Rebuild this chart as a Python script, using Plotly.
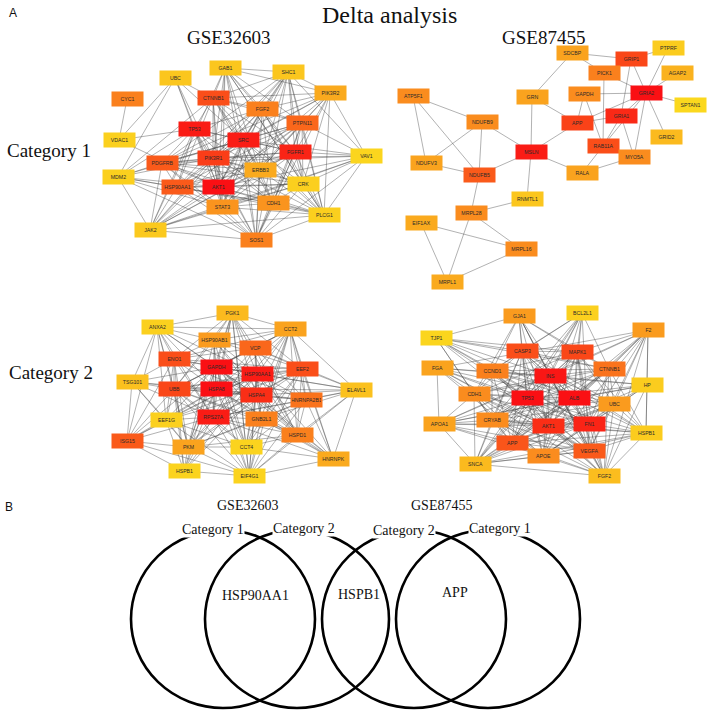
import plotly.graph_objects as go
from plotly.colors import sample_colorscale

# ---------------- Panel A data: four PPI networks ----------------
# Network 1: GSE32603, Category 1
n1_names = ["GAB1", "UBC", "SHC1", "CYC1", "CTNNB1", "PIK3R2", "FGF2", "PTPN11", "TP53", "VDAC1",
            "SRC", "FGFR1", "VAV1", "PDGFRB", "PIK3R1", "ERBB3", "MDM2", "CRK", "HSP90AA1", "AKT1",
            "STAT3", "CDH1", "PLCG1", "JAK2", "SOS1"]
n1_x = [225, 175, 288, 127, 213, 330, 262, 302, 194, 119, 243, 295, 366, 162, 213, 260, 118, 303, 177, 218,
        222, 273, 324, 150, 256]
n1_y = [68, 78, 72, 99, 98, 93, 109, 123, 129, 140, 140, 152, 156, 163, 158, 170, 177, 184, 187, 187,
        207, 203, 215, 230, 240]
n1_score = [0.12, 0.12, 0.12, 0.55, 0.75, 0.3, 0.55, 0.65, 0.95, 0.05, 0.95, 0.92, 0.02, 0.7, 0.82, 0.3,
            0.05, 0.06, 0.7, 1.0, 0.45, 0.45, 0.06, 0.1, 0.55]
n1_adj = {
    "CYC1": ["VDAC1"],
    "VDAC1": ["UBC", "AKT1", "TP53"],
    "UBC": ["TP53", "CTNNB1", "SRC", "MDM2", "AKT1", "PIK3R1"],
    "GAB1": ["SRC", "PIK3R1", "PTPN11", "SHC1", "PIK3R2", "FGFR1", "ERBB3", "AKT1", "CRK", "PLCG1", "SOS1",
             "FGF2", "STAT3", "JAK2", "CTNNB1"],
    "SHC1": ["SRC", "PIK3R1", "PTPN11", "FGFR1", "ERBB3", "CRK", "PLCG1", "SOS1", "FGF2", "PDGFRB",
             "PIK3R2", "VAV1", "STAT3", "CTNNB1", "HSP90AA1", "AKT1"],
    "PIK3R2": ["PIK3R1", "SRC", "FGFR1", "PTPN11", "ERBB3", "AKT1", "PDGFRB", "VAV1", "PLCG1", "SOS1",
               "CRK", "CTNNB1", "FGF2"],
    "CTNNB1": ["TP53", "SRC", "AKT1", "CDH1", "PIK3R1", "FGFR1", "PTPN11", "MDM2", "FGF2", "HSP90AA1",
               "ERBB3", "STAT3", "PLCG1"],
    "FGF2": ["FGFR1", "SRC", "PIK3R1", "AKT1", "PTPN11", "PLCG1", "CDH1", "STAT3", "TP53", "SOS1", "CRK",
             "PDGFRB", "JAK2"],
    "PTPN11": ["SRC", "FGFR1", "PDGFRB", "PIK3R1", "STAT3", "JAK2", "CRK", "PLCG1", "SOS1", "ERBB3",
               "AKT1", "VAV1", "HSP90AA1", "CDH1"],
    "TP53": ["SRC", "AKT1", "MDM2", "HSP90AA1", "PIK3R1", "STAT3", "CDH1", "PDGFRB", "JAK2", "FGFR1",
             "ERBB3", "SOS1"],
    "SRC": ["FGFR1", "AKT1", "PIK3R1", "PDGFRB", "STAT3", "CDH1", "CRK", "PLCG1", "SOS1", "ERBB3", "JAK2",
            "HSP90AA1", "VAV1", "MDM2"],
    "FGFR1": ["PIK3R1", "AKT1", "PDGFRB", "PLCG1", "CRK", "SOS1", "STAT3", "CDH1", "ERBB3", "VAV1",
              "HSP90AA1", "JAK2"],
    "VAV1": ["PLCG1", "CRK", "SOS1", "PIK3R1", "AKT1", "PDGFRB", "JAK2", "STAT3"],
    "PDGFRB": ["PIK3R1", "AKT1", "PLCG1", "SOS1", "JAK2", "STAT3", "CRK", "MDM2", "HSP90AA1", "ERBB3"],
    "PIK3R1": ["AKT1", "ERBB3", "PLCG1", "CRK", "SOS1", "JAK2", "STAT3", "HSP90AA1", "CDH1", "MDM2"],
    "ERBB3": ["AKT1", "PLCG1", "SOS1", "STAT3", "CRK", "HSP90AA1", "CDH1", "JAK2"],
    "MDM2": ["AKT1", "HSP90AA1", "STAT3", "JAK2", "CDH1", "SOS1"],
    "CRK": ["PLCG1", "SOS1", "AKT1", "STAT3", "CDH1", "JAK2"],
    "HSP90AA1": ["AKT1", "STAT3", "JAK2", "SOS1", "CDH1", "CRK", "PLCG1"],
    "AKT1": ["STAT3", "CDH1", "PLCG1", "SOS1", "JAK2"],
    "STAT3": ["JAK2", "SOS1", "CDH1", "PLCG1"],
    "CDH1": ["PLCG1", "SOS1"],
    "PLCG1": ["SOS1", "JAK2"],
    "JAK2": ["SOS1"],
}

# Network 2: GSE87455, Category 1
n2_names = ["SDCBP", "PTPRF", "GRIP1", "PICK1", "AGAP2", "ATP5F1", "GRN", "GAPDH", "GRIA2", "SPTAN1",
            "NDUFB9", "GRIA1", "APP", "GRID2", "MSLN", "RAB11A", "MYO5A", "NDUFV3", "NDUFB5", "RALA",
            "RNMTL1", "MRPL28", "EIF1AX", "MRPL16", "MRPL1"]
n2_x = [572, 668, 631, 604, 677, 413, 532, 584, 646, 690, 482, 621, 577, 666, 531, 603, 634, 426, 479, 582,
        527, 471, 421, 521, 447]
n2_y = [53, 48, 59, 73, 73, 96, 97, 94, 93, 105, 122, 116, 123, 137, 152, 146, 157, 163, 175, 173,
        199, 213, 223, 249, 282]
n2_score = [0.35, 0.08, 0.78, 0.55, 0.25, 0.5, 0.35, 0.5, 1.0, 0.0, 0.5, 0.9, 0.8, 0.2, 0.95, 0.75, 0.5,
            0.35, 0.7, 0.35, 0.12, 0.5, 0.3, 0.5, 0.3]
n2_adj = {
    "SDCBP": ["GRIP1", "PICK1", "GRN"],
    "GRIP1": ["PTPRF", "PICK1", "GRIA2", "GRIA1"],
    "PTPRF": ["GRIA2"],
    "AGAP2": ["GRIA2"],
    "PICK1": ["GRIA2", "RAB11A"],
    "GAPDH": ["GRIA2", "APP", "RAB11A"],
    "GRIA2": ["GRIA1", "APP", "SPTAN1", "GRID2", "MYO5A", "RAB11A"],
    "GRIA1": ["APP", "RAB11A", "MYO5A"],
    "APP": ["GRN", "MSLN"],
    "GRN": ["MSLN"],
    "MSLN": ["NDUFB9", "NDUFB5", "RALA", "RNMTL1"],
    "RALA": ["RAB11A", "MYO5A"],
    "ATP5F1": ["NDUFB9", "NDUFV3", "NDUFB5"],
    "NDUFB9": ["NDUFV3", "NDUFB5"],
    "NDUFV3": ["NDUFB5"],
    "NDUFB5": ["MRPL28"],
    "MRPL28": ["RNMTL1", "MRPL16", "MRPL1"],
    "EIF1AX": ["MRPL16", "MRPL1"],
    "MRPL16": ["MRPL1"],
}

# Network 3: GSE32603, Category 2
n3_names = ["PGK1", "ANXA2", "CCT2", "HSP90AB1", "VCP", "ENO1", "GAPDH", "HSP90AA1", "EEF2", "TSG101",
            "UBB", "HSPA8", "HSPA4", "ELAVL1", "HNRNPA2B1", "EEF1G", "RPS27A", "GNB2L1", "ISG15", "HSPD1",
            "PKM", "CCT4", "HNRNPK", "HSPB1", "EIF4G1"]
n3_x = [232, 157, 290, 214, 255, 174, 216, 257, 302, 132, 174, 216, 256, 356, 306, 166, 213, 261, 127, 297,
        188, 246, 333, 184, 249]
n3_y = [313, 327, 329, 340, 348, 359, 367, 374, 369, 382, 389, 389, 395, 390, 400, 420, 417, 419, 441, 435,
        447, 447, 459, 471, 476]
n3_score = [0.2, 0.05, 0.35, 0.4, 0.65, 0.75, 1.0, 0.95, 0.75, 0.15, 0.78, 1.0, 0.88, 0.15, 0.6, 0.05, 0.95,
            0.55, 0.7, 0.55, 0.35, 0.03, 0.3, 0.03, 0.03]
n3_adj = {
    "PGK1": ["ANXA2", "HSP90AB1", "GAPDH", "HSPA8", "HSP90AA1", "ENO1", "CCT2", "PKM", "HSPA4", "RPS27A",
             "EEF2", "UBB", "VCP", "HSPD1", "EIF4G1", "CCT4"],
    "ANXA2": ["HSP90AB1", "ENO1", "GAPDH", "HSPA8", "UBB", "TSG101", "CCT2", "HSP90AA1", "PKM", "ISG15",
              "RPS27A", "HSPA4", "EEF1G"],
    "CCT2": ["HSP90AB1", "VCP", "GAPDH", "HSP90AA1", "EEF2", "HSPA4", "HSPA8", "HNRNPA2B1", "HSPD1", "CCT4",
             "ELAVL1", "GNB2L1", "UBB", "ENO1", "RPS27A", "HNRNPK", "EIF4G1"],
    "HSP90AB1": ["VCP", "GAPDH", "HSP90AA1", "HSPA8", "ENO1", "UBB", "HSPA4", "EEF2", "RPS27A", "HSPD1",
                 "CCT4", "PKM"],
    "VCP": ["GAPDH", "HSP90AA1", "HSPA8", "EEF2", "HSPA4", "UBB", "ENO1", "RPS27A", "HNRNPA2B1", "HSPD1",
            "GNB2L1", "ELAVL1"],
    "ENO1": ["GAPDH", "HSPA8", "UBB", "TSG101", "HSP90AA1", "PKM", "RPS27A", "HSPA4", "EEF1G", "ISG15",
             "HSPB1", "EEF2"],
    "GAPDH": ["HSP90AA1", "HSPA8", "UBB", "HSPA4", "RPS27A", "EEF2", "HNRNPA2B1", "GNB2L1", "HSPD1", "EEF1G",
              "PKM", "CCT4", "ISG15", "EIF4G1", "TSG101", "ELAVL1", "HNRNPK", "HSPB1"],
    "HSP90AA1": ["HSPA8", "HSPA4", "UBB", "RPS27A", "EEF2", "HNRNPA2B1", "GNB2L1", "HSPD1", "CCT4", "ELAVL1",
                 "PKM", "EIF4G1", "HSPB1", "ISG15", "HNRNPK", "EEF1G"],
    "EEF2": ["HSPA8", "HSPA4", "HNRNPA2B1", "ELAVL1", "GNB2L1", "HSPD1", "RPS27A", "UBB", "CCT4", "EIF4G1",
             "HNRNPK", "EEF1G", "PKM"],
    "TSG101": ["UBB", "HSPA8", "ISG15", "EEF1G", "RPS27A", "HSPA4", "PKM"],
    "UBB": ["HSPA8", "HSPA4", "RPS27A", "ISG15", "EEF1G", "PKM", "GNB2L1", "HSPD1", "CCT4", "HSPB1",
            "EIF4G1", "HNRNPA2B1"],
    "HSPA8": ["HSPA4", "RPS27A", "GNB2L1", "HNRNPA2B1", "HSPD1", "PKM", "CCT4", "EEF1G", "ISG15", "HSPB1",
              "EIF4G1", "ELAVL1", "HNRNPK"],
    "HSPA4": ["RPS27A", "GNB2L1", "HNRNPA2B1", "HSPD1", "ELAVL1", "CCT4", "PKM", "HNRNPK", "EIF4G1", "EEF1G",
              "HSPB1"],
    "ELAVL1": ["HNRNPA2B1", "HSPD1", "HNRNPK", "GNB2L1", "RPS27A", "EIF4G1"],
    "HNRNPA2B1": ["GNB2L1", "HSPD1", "HNRNPK", "RPS27A", "CCT4", "EIF4G1", "PKM"],
    "EEF1G": ["RPS27A", "ISG15", "PKM", "HSPB1", "CCT4", "EIF4G1"],
    "RPS27A": ["GNB2L1", "HSPD1", "PKM", "CCT4", "ISG15", "HSPB1", "EIF4G1", "HNRNPK"],
    "GNB2L1": ["HSPD1", "CCT4", "EIF4G1", "PKM", "HNRNPK"],
    "ISG15": ["PKM", "HSPB1", "EIF4G1"],
    "HSPD1": ["CCT4", "HNRNPK", "EIF4G1", "PKM"],
    "PKM": ["CCT4", "HSPB1", "EIF4G1"],
    "CCT4": ["EIF4G1", "HNRNPK"],
    "HNRNPK": ["EIF4G1"],
    "HSPB1": ["EIF4G1"],
}

# Network 4: GSE87455, Category 2
n4_names = ["GJA1", "BCL2L1", "F2", "TJP1", "CASP3", "MAPK1", "FGA", "CCND1", "CTNNB1", "INS", "HP", "CDH1",
            "TP53", "ALB", "UBC", "APOA1", "CRYAB", "AKT1", "FN1", "HSPB1", "APP", "APOE", "VEGFA", "SNCA",
            "FGF2"]
n4_x = [519, 582, 648, 436, 522, 577, 437, 492, 609, 550, 647, 474, 527, 574, 614, 439, 492, 548, 589, 646,
        512, 543, 589, 475, 604]
n4_y = [316, 313, 330, 338, 351, 352, 368, 371, 369, 376, 385, 394, 398, 398, 404, 424, 420, 426, 424, 433,
        443, 456, 451, 464, 476]
n4_score = [0.4, 0.05, 0.4, 0.02, 0.75, 0.78, 0.35, 0.55, 0.6, 0.97, 0.08, 0.5, 1.0, 1.0, 0.4, 0.35, 0.5, 0.88,
            0.92, 0.08, 0.72, 0.5, 0.7, 0.2, 0.18]
n4_adj = {
    "GJA1": ["TJP1", "CASP3", "CTNNB1", "INS", "TP53", "AKT1", "MAPK1", "CDH1", "ALB", "VEGFA", "CCND1", "FGF2"],
    "BCL2L1": ["CASP3", "TP53", "AKT1", "MAPK1", "INS", "ALB", "CCND1", "CTNNB1", "APP", "VEGFA", "CRYAB",
               "SNCA"],
    "F2": ["ALB", "INS", "FGA", "APOA1", "FN1", "VEGFA", "HP", "MAPK1", "AKT1", "APOE", "FGF2", "CTNNB1", "UBC",
           "HSPB1", "APP"],
    "TJP1": ["CTNNB1", "CDH1", "CASP3", "INS", "AKT1", "TP53", "ALB", "MAPK1", "CCND1", "CRYAB", "FN1"],
    "CASP3": ["TP53", "AKT1", "INS", "ALB", "MAPK1", "APP", "CCND1", "CTNNB1", "CDH1", "CRYAB", "SNCA", "FN1",
              "VEGFA", "UBC", "HSPB1", "APOE"],
    "MAPK1": ["TP53", "AKT1", "INS", "ALB", "FN1", "VEGFA", "CTNNB1", "CCND1", "APP", "CDH1", "UBC", "FGF2",
              "SNCA", "HSPB1", "APOE"],
    "FGA": ["ALB", "APOA1", "FN1", "INS", "TP53", "CDH1", "AKT1", "HP", "VEGFA", "APOE"],
    "CCND1": ["TP53", "AKT1", "INS", "CTNNB1", "CDH1", "CRYAB", "ALB", "FN1", "VEGFA", "FGF2", "UBC", "APP"],
    "CTNNB1": ["TP53", "AKT1", "CDH1", "INS", "ALB", "UBC", "FN1", "VEGFA", "APP", "FGF2", "HSPB1", "CRYAB",
               "SNCA"],
    "INS": ["TP53", "ALB", "AKT1", "FN1", "VEGFA", "APOE", "APP", "CDH1", "CRYAB", "UBC", "HP", "APOA1", "FGF2",
            "HSPB1", "SNCA"],
    "HP": ["ALB", "APOA1", "FN1", "AKT1", "HSPB1", "TP53", "UBC", "APOE", "FGF2"],
    "CDH1": ["TP53", "AKT1", "ALB", "FN1", "CRYAB", "APP", "VEGFA", "APOA1", "SNCA", "APOE", "FGF2"],
    "TP53": ["ALB", "AKT1", "FN1", "VEGFA", "APP", "APOE", "CRYAB", "UBC", "HSPB1", "SNCA", "APOA1", "FGF2"],
    "ALB": ["AKT1", "FN1", "VEGFA", "APOE", "APP", "APOA1", "UBC", "HSPB1", "CRYAB", "SNCA", "FGF2"],
    "UBC": ["AKT1", "FN1", "HSPB1", "APP", "SNCA", "VEGFA", "CRYAB", "APOE", "FGF2"],
    "APOA1": ["APOE", "AKT1", "CRYAB", "SNCA", "FN1", "VEGFA", "APP"],
    "CRYAB": ["AKT1", "HSPB1", "APP", "SNCA", "APOE", "FGF2", "VEGFA", "FN1"],
    "AKT1": ["FN1", "VEGFA", "APP", "APOE", "SNCA", "HSPB1", "FGF2"],
    "FN1": ["VEGFA", "HSPB1", "FGF2", "APP", "APOE", "SNCA"],
    "HSPB1": ["VEGFA", "FGF2", "SNCA", "APP", "APOE"],
    "APP": ["APOE", "SNCA", "VEGFA", "FGF2"],
    "APOE": ["SNCA", "VEGFA", "FGF2"],
    "VEGFA": ["FGF2", "SNCA"],
    "SNCA": ["FGF2"],
}

# ---------------- Panel B data: Venn of hub genes ----------------
venn_sets = ["Category 1", "Category 2", "Category 2", "Category 1"]
venn_cx = [223, 297, 414, 488]
venn_cy = [619, 619, 619, 619]
venn_label_x = [213, 304, 404, 500]
venn_label_y = [529, 528, 530, 528]
venn_genes = ["HSP90AA1", "HSPB1", "APP"]
venn_gene_x = [255, 359, 455]
venn_gene_y = [595, 594, 592]

COLORSCALE = [[0.0, "#FBD81E"], [0.5, "#FA8C1E"], [1.0, "#FA1014"]]
SERIF = "Liberation Serif, Times New Roman, serif"
SANS = "Liberation Sans, Arial, sans-serif"

fig = go.Figure()
annotations = []

networks = [
    (n1_names, n1_x, n1_y, n1_score, n1_adj),
    (n2_names, n2_x, n2_y, n2_score, n2_adj),
    (n3_names, n3_x, n3_y, n3_score, n3_adj),
    (n4_names, n4_x, n4_y, n4_score, n4_adj),
]

for names, xs, ys, scores, adj in networks:
    pos = {n: (x, y) for n, x, y in zip(names, xs, ys)}
    ex, ey = [], []
    seen = set()
    for a, nbrs in adj.items():
        for b in nbrs:
            key = tuple(sorted((a, b)))
            if key in seen:
                continue
            seen.add(key)
            ex += [pos[a][0], pos[b][0], None]
            ey += [pos[a][1], pos[b][1], None]
    fig.add_trace(go.Scatter(x=ex, y=ey, mode="lines", hoverinfo="skip",
                             line=dict(color="rgba(70,70,70,0.6)", width=0.7), showlegend=False))
    colors = sample_colorscale(COLORSCALE, scores)
    for n, x, y, c in zip(names, xs, ys, colors):
        annotations.append(dict(x=x, y=y, xref="x", yref="y", text=n, showarrow=False,
                                width=29, height=12, borderpad=1, bgcolor=c,
                                font=dict(family=SANS, size=5.2, color="#2a2a2a")))

# Venn ellipses
shapes = []
for cx, cy in zip(venn_cx, venn_cy):
    shapes.append(dict(type="circle", xref="x", yref="y", x0=cx - 92, x1=cx + 92, y0=cy - 89, y1=cy + 89,
                       line=dict(color="black", width=2.6)))

for lab, x, y in zip(venn_sets, venn_label_x, venn_label_y):
    annotations.append(dict(x=x, y=y, xref="x", yref="y", text=lab, showarrow=False, bgcolor="white",
                            borderpad=0, font=dict(family=SERIF, size=14, color="#111")))
for g, x, y in zip(venn_genes, venn_gene_x, venn_gene_y):
    annotations.append(dict(x=x, y=y, xref="x", yref="y", text=g, showarrow=False,
                            font=dict(family=SERIF, size=14, color="#111")))

# Titles & labels
texts = [
    ("A", 13, 13, SANS, 12),
    ("Delta analysis", 389, 15, SERIF, 24),
    ("GSE32603", 228, 37, SERIF, 19),
    ("GSE87455", 543, 37, SERIF, 19),
    ("Category 1", 49, 150, SERIF, 19),
    ("Category 2", 51, 372, SERIF, 19),
    ("B", 9, 507, SANS, 12),
    ("GSE32603", 247, 505, SERIF, 14),
    ("GSE87455", 441, 505, SERIF, 14),
]
for t, x, y, fam, sz in texts:
    annotations.append(dict(x=x, y=y, xref="x", yref="y", text=t, showarrow=False,
                            font=dict(family=fam, size=sz, color="#111")))

fig.update_layout(
    width=715, height=714, margin=dict(l=0, r=0, t=0, b=0),
    paper_bgcolor="white", plot_bgcolor="white",
    xaxis=dict(range=[0, 715], visible=False, fixedrange=True),
    yaxis=dict(range=[714, 0], visible=False, fixedrange=True),
    annotations=annotations, shapes=shapes, showlegend=False,
)
fig.write_html("out.html", config={"displayModeBar": False},
               post_script="document.body.style.margin='0';document.body.style.padding='0';")
